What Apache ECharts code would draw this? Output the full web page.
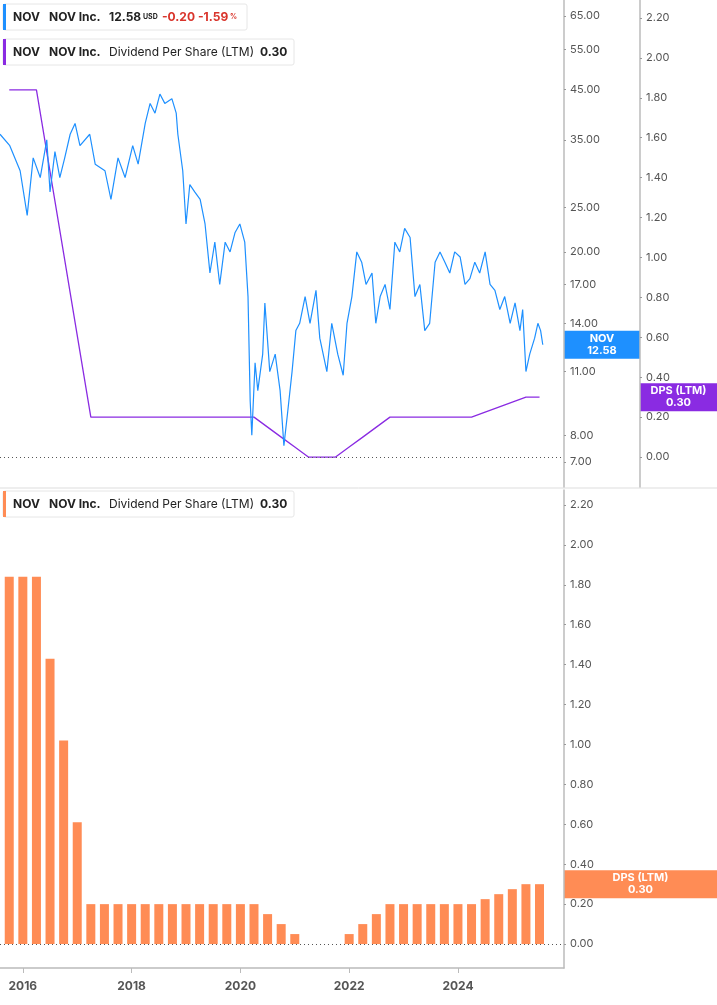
<!DOCTYPE html>
<html><head><meta charset="utf-8">
<script src="https://cdn.jsdelivr.net/npm/echarts@6/dist/echarts.min.js"></script>
<style>html,body{margin:0;padding:0;background:#fff}#c{width:717px;height:1005px}</style>
</head><body><div id="c"></div>
<script>
const priceYears=[2015.58,2015.76,2015.95,2016.08,2016.19,2016.32,2016.44,2016.50,2016.59,2016.68,2016.77,2016.87,2016.96,2017.05,2017.23,2017.33,2017.51,2017.62,2017.75,2017.88,2018.02,2018.12,2018.25,2018.34,2018.43,2018.52,2018.61,2018.74,2018.82,2018.85,2018.94,2019.00,2019.07,2019.16,2019.26,2019.35,2019.44,2019.53,2019.62,2019.72,2019.81,2019.90,2019.99,2020.08,2020.14,2020.18,2020.21,2020.27,2020.32,2020.41,2020.45,2020.54,2020.64,2020.73,2020.80,2020.87,2020.95,2021.02,2021.09,2021.19,2021.28,2021.39,2021.46,2021.59,2021.68,2021.79,2021.89,2021.96,2022.05,2022.14,2022.23,2022.31,2022.42,2022.49,2022.57,2022.66,2022.75,2022.84,2022.93,2023.02,2023.12,2023.21,2023.30,2023.39,2023.48,2023.58,2023.67,2023.76,2023.85,2023.94,2024.04,2024.13,2024.22,2024.31,2024.40,2024.50,2024.59,2024.68,2024.77,2024.86,2024.96,2025.05,2025.14,2025.19,2025.25,2025.32,2025.41,2025.47,2025.52,2025.56];
const priceValues=[36,34,30,24,32,29,35,27,33,29,32,36,38,34,36,31,30,26,32,29,34,31,38,42,40,44,42,43,40,36,30,23,28,27,26,23,18,21,17,21,20,22,23,21,16,9.5,8,11.5,10,12,15.5,11,12,10,7.6,9,11,13.5,14,16,14,16.5,13,11,14,12,10.8,14,16,20,19,17,18,14,16,17,15,21,20,22.5,21.5,16,17,13.5,14,19,20,19,18,20,19.5,17,17.5,19,18,20,17,16.5,15,16,14,15.5,13.5,15,11,12,13,14,13.5,12.58];
const dpsYears=[2015.75,2016.0,2016.25,2016.5,2016.75,2017.0,2017.25,2017.5,2017.75,2018.0,2018.25,2018.5,2018.75,2019.0,2019.25,2019.5,2019.75,2020.0,2020.25,2020.5,2020.75,2021.0,2021.25,2021.5,2021.75,2022.0,2022.25,2022.5,2022.75,2023.0,2023.25,2023.5,2023.75,2024.0,2024.25,2024.5,2024.75,2025.0,2025.25,2025.5];
const dpsValues=[1.84,1.84,1.84,1.43,1.02,0.61,0.2,0.2,0.2,0.2,0.2,0.2,0.2,0.2,0.2,0.2,0.2,0.2,0.2,0.15,0.10,0.05,0,0,0,0.05,0.10,0.15,0.2,0.2,0.2,0.2,0.2,0.2,0.2,0.225,0.25,0.275,0.30,0.30];
const yearTicks=[2016,2018,2020,2022,2024];
const priceTicks=[7,8,11,14,17,20,25,35,45,55,65];
const dpsTicks=[0,0.2,0.4,0.6,0.8,1.0,1.2,1.4,1.6,1.8,2.0,2.2];

const FONT='Inter, "Noto Sans", sans-serif';
const lab={color:'#555',fontSize:11,fontFamily:FONT};
const chart=echarts.init(document.getElementById('c'),null,{renderer:'canvas'});
const xMin=2015.58,xMax=2025.95;
const axLine={show:true,onZero:false,lineStyle:{color:'#bbb',width:1.5}};
const ln=Math.log;
chart.setOption({
  animation:false,
  grid:[{left:0,right:153,top:0,height:487},{left:0,right:153,top:490,height:478}],
  xAxis:[
    {gridIndex:0,type:'value',min:xMin,max:xMax,show:false},
    {gridIndex:1,type:'value',min:xMin,max:xMax,splitLine:{show:false},axisLine:axLine,
     axisTick:{show:true,customValues:yearTicks,lineStyle:{color:'#bbb'}},
     axisLabel:Object.assign({},lab,{customValues:yearTicks,fontSize:12,fontWeight:'bold',color:'#555',formatter:v=>String(Math.round(v)),margin:12})}
  ],
  yAxis:[
    {gridIndex:0,type:'value',position:'right',min:ln(6.18),max:ln(70.4),splitLine:{show:false},axisLine:axLine,
     axisTick:{show:true,inside:false,length:2,customValues:priceTicks.map(ln),lineStyle:{color:'#999'}},
     axisLabel:Object.assign({},lab,{customValues:priceTicks.map(ln),formatter:v=>Math.exp(v).toFixed(2),margin:6})},
    {gridIndex:0,type:'value',position:'right',offset:76,min:-0.15,max:2.29,splitLine:{show:false},axisLine:axLine,
     axisTick:{show:true,length:2,customValues:dpsTicks,lineStyle:{color:'#999'}},
     axisLabel:Object.assign({},lab,{customValues:dpsTicks,formatter:v=>v.toFixed(2),margin:6})},
    {gridIndex:1,type:'value',position:'right',min:-0.12,max:2.275,splitLine:{show:false},axisLine:axLine,
     axisTick:{show:true,length:2,customValues:dpsTicks,lineStyle:{color:'#999'}},
     axisLabel:Object.assign({},lab,{customValues:dpsTicks,formatter:v=>v.toFixed(2),margin:6})}
  ],
  series:[
    {type:'line',xAxisIndex:0,yAxisIndex:1,data:dpsYears.map((x,i)=>[x,dpsValues[i]]),symbol:'none',
     lineStyle:{color:'#8a2be2',width:1.3},
     markLine:{silent:true,symbol:'none',label:{show:false},lineStyle:{color:'#555',type:[1,3],width:1},data:[{yAxis:0}]}},
    {type:'line',xAxisIndex:0,yAxisIndex:0,data:priceYears.map((x,i)=>[x,ln(priceValues[i])]),symbol:'none',
     lineStyle:{color:'#1e90ff',width:1.2}},
    {type:'bar',xAxisIndex:1,yAxisIndex:2,data:dpsYears.map((x,i)=>[x,dpsValues[i]]),barWidth:9,
     itemStyle:{color:'#ff8c55'},
     markLine:{silent:true,symbol:'none',label:{show:false},lineStyle:{color:'#555',type:[1,3],width:1},data:[{yAxis:0}]}}
  ]
});
const lastP=priceValues[priceValues.length-1], lastD=dpsValues[dpsValues.length-1];
const pY=chart.convertToPixel({yAxisIndex:0},ln(lastP));
const dY=chart.convertToPixel({yAxisIndex:1},lastD);
const bY=chart.convertToPixel({yAxisIndex:2},lastD);
function tag(x,y,w,h,color,l1,l2){
  return {type:'group',children:[
    {type:'rect',shape:{x:x,y:y-h/2,width:w,height:h},style:{fill:color}},
    {type:'text',style:{x:x+w/2,y:y-6,text:l1,fill:'#fff',font:'bold 11px '+FONT,align:'center',verticalAlign:'middle'}},
    {type:'text',style:{x:x+w/2,y:y+6,text:l2,fill:'#fff',font:'bold 11px '+FONT,align:'center',verticalAlign:'middle'}}]};
}
function legend(y,color,w,parts){
  const ch=[{type:'rect',shape:{x:3,y:y,width:w,height:26,r:2},style:{fill:'#fff',stroke:'#e6e6e6'}},
            {type:'rect',shape:{x:3,y:y,width:3,height:26},style:{fill:color}}];
  parts.forEach(p=>ch.push({type:'text',style:{x:p[0],y:y+13,text:p[1],fill:p[2]||'#222',font:(p[3]||'bold 12px ')+FONT,verticalAlign:'middle'}}));
  return {type:'group',children:ch};
}
chart.setOption({graphic:[
  {type:'line',shape:{x1:0,y1:488,x2:717,y2:488},style:{stroke:'#ddd',lineWidth:1}},
  tag(564,pY,76,28,'#1e90ff','NOV',lastP.toFixed(2)),
  tag(640,dY,77,28,'#8a2be2','DPS (LTM)',lastD.toFixed(2)),
  tag(564,bY,153,28,'#ff8c55','DPS (LTM)',lastD.toFixed(2)),
  legend(4,'#1e90ff',244,[[13,'NOV'],[49,'NOV Inc.'],[109,'12.58'],[143,'USD','#222','bold 7px '],[162,'-0.20','#d9342b'],[198,'-1.59','#d9342b'],[230,'%','#d9342b','bold 7px ']]),
  legend(39,'#8a2be2',291,[[13,'NOV'],[49,'NOV Inc.'],[109,'Dividend Per Share (LTM)','#222','12px '],[260,'0.30']]),
  legend(491,'#ff8c55',291,[[13,'NOV'],[49,'NOV Inc.'],[109,'Dividend Per Share (LTM)','#222','12px '],[260,'0.30']])
]});
</script></body></html>
